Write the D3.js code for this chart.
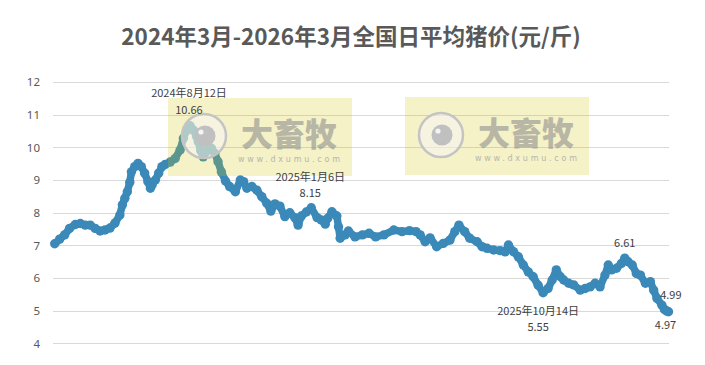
<!DOCTYPE html>
<html><head><meta charset="utf-8">
<script src="https://cdn.jsdelivr.net/npm/d3@7"></script>
<style>body{margin:0;background:#fff}svg{display:block}</style>
</head><body><svg id="c" width="705" height="365"></svg>
<script>
const title = "2024年3月-2026年3月全国日平均猪价(元/斤)";
const dates = ["2024-03-01","2024-03-07","2024-03-13","2024-03-19","2024-03-26","2024-04-01","2024-04-07","2024-04-13","2024-04-19","2024-04-25","2024-05-01","2024-05-07","2024-05-13","2024-05-19","2024-05-22","2024-05-25","2024-05-28","2024-05-31","2024-06-02","2024-06-06","2024-06-10","2024-06-14","2024-06-18","2024-06-22","2024-06-25","2024-06-27","2024-07-01","2024-07-05","2024-07-09","2024-07-13","2024-07-19","2024-07-25","2024-07-31","2024-08-04","2024-08-08","2024-08-12","2024-08-16","2024-08-20","2024-08-22","2024-08-25","2024-08-28","2024-08-31","2024-09-03","2024-09-07","2024-09-11","2024-09-15","2024-09-19","2024-09-24","2024-09-29","2024-10-06","2024-10-12","2024-10-16","2024-10-20","2024-10-26","2024-11-01","2024-11-07","2024-11-13","2024-11-18","2024-11-23","2024-11-29","2024-12-05","2024-12-11","2024-12-17","2024-12-21","2024-12-25","2024-12-31","2025-01-06","2025-01-13","2025-01-18","2025-01-23","2025-01-26","2025-01-31","2025-02-06","2025-02-08","2025-02-10","2025-02-16","2025-02-20","2025-02-28","2025-03-09","2025-03-17","2025-03-25","2025-04-04","2025-04-16","2025-04-26","2025-05-05","2025-05-13","2025-05-18","2025-05-24","2025-05-30","2025-06-07","2025-06-15","2025-06-23","2025-06-29","2025-07-04","2025-07-11","2025-07-17","2025-07-26","2025-08-01","2025-08-07","2025-08-15","2025-08-23","2025-08-29","2025-09-02","2025-09-08","2025-09-14","2025-09-20","2025-09-26","2025-10-02","2025-10-08","2025-10-14","2025-10-20","2025-10-25","2025-10-30","2025-11-04","2025-11-08","2025-11-14","2025-11-20","2025-11-28","2025-12-04","2025-12-10","2025-12-16","2025-12-22","2025-12-28","2026-01-01","2026-01-05","2026-01-11","2026-01-17","2026-01-21","2026-01-25","2026-01-30","2026-02-04","2026-02-09","2026-02-15","2026-02-21","2026-02-25","2026-03-01","2026-03-07","2026-03-10","2026-03-13","2026-03-15"];
const prices = [7.05,7.19,7.32,7.52,7.64,7.67,7.62,7.62,7.52,7.44,7.47,7.53,7.68,7.93,8.24,8.44,8.64,8.93,9.25,9.41,9.51,9.41,9.21,8.95,8.75,8.85,9.00,9.21,9.41,9.48,9.55,9.66,9.92,10.28,10.53,10.66,10.53,10.33,10.17,9.90,9.71,9.85,9.97,9.97,9.82,9.56,9.25,8.97,8.80,8.64,9.00,8.95,8.75,8.80,8.69,8.49,8.29,8.05,8.27,8.20,7.88,8.00,7.85,7.62,7.90,8.02,8.15,7.85,7.78,7.65,7.83,8.03,7.90,7.57,7.22,7.32,7.44,7.26,7.32,7.37,7.26,7.32,7.47,7.42,7.45,7.42,7.32,7.11,7.23,6.96,7.06,7.16,7.42,7.62,7.42,7.22,7.11,6.96,6.91,6.86,6.84,6.80,7.01,6.81,6.65,6.40,6.19,6.04,5.78,5.55,5.68,5.94,6.25,6.04,5.94,5.84,5.79,5.63,5.68,5.73,5.84,5.73,6.09,6.40,6.25,6.30,6.45,6.61,6.50,6.40,6.14,6.09,5.84,5.89,5.63,5.38,5.17,5.04,4.99,4.97];
const yTicks = [4,5,6,7,8,9,10,11,12];
const labelledDates = ["2024-08-12","2025-01-06","2025-10-14","2026-01-21","2026-03-13","2026-03-15"];
const watermarkName = "大畜牧";
const watermarkUrl = "www.dxumu.com";

const parse = d3.timeParse("%Y-%m-%d");
const data = dates.map((d,i)=>({date:parse(d), value:prices[i], key:d}));

const svg = d3.select("#c");
const x = d3.scaleTime().domain([parse(dates[0]), parse(dates[dates.length-1])]).range([54.7, 668.5]);
const y = d3.scaleLinear().domain([4,12]).range([343.4, 82]);

svg.append("text").attr("x",351).attr("y",45).attr("text-anchor","middle")
  .attr("font-family","'Noto Sans CJK SC', sans-serif").attr("font-weight","bold")
  .attr("font-size",22.5).attr("fill","#595959").text(title);

// grid
const g = svg.append("g");
g.selectAll("line.grid").data(yTicks).join("line")
  .attr("x1",53).attr("x2",669).attr("y1",d=>Math.round(y(d))+0.5).attr("y2",d=>Math.round(y(d))+0.5)
  .attr("stroke","#d9d9d9").attr("stroke-width",1);
const yAxis = d3.axisLeft(y).tickValues(yTicks).tickSize(0).tickPadding(0);
const ya = svg.append("g").attr("transform","translate(40,0)").call(yAxis);
ya.select(".domain").remove();
ya.selectAll("text").attr("font-family","'Noto Sans', sans-serif").attr("font-size",11.5).attr("fill","#595959");

// line
const line = d3.line().x(d=>x(d.date)).y(d=>y(d.value)).curve(d3.curveLinear);
svg.append("path").datum(data).attr("d",line).attr("fill","none")
  .attr("stroke","#3a89b8").attr("stroke-width",7.5).attr("stroke-linejoin","round").attr("stroke-linecap","round");
svg.selectAll("circle.pt").data(data).join("circle").attr("class","pt")
  .attr("cx",d=>x(d.date)).attr("cy",d=>y(d.value)).attr("r",4.7).attr("fill","#3a89b8");

// watermarks
function watermark(bx, by){
  const w = svg.append("g").attr("transform",`translate(${bx},${by})`);
  w.append("rect").attr("width",184).attr("height",78).attr("fill","rgb(209,195,0)").attr("opacity",0.22);
  w.append("circle").attr("cx",36).attr("cy",38).attr("r",22).attr("fill","#f6f6f6").attr("fill-opacity",0.55)
    .attr("stroke","#c4c4c4").attr("stroke-width",2.5);
  w.append("circle").attr("cx",37).attr("cy",38).attr("r",10.5).attr("fill","#c0c0c0");
  w.append("circle").attr("cx",33).attr("cy",34).attr("r",2.6).attr("fill","#f4f4f4");
  w.append("text").attr("x",121).attr("y",48).attr("text-anchor","middle")
    .attr("font-family","'Noto Sans CJK SC', sans-serif").attr("font-weight",900).attr("font-size",32)
    .attr("fill","#909090").attr("opacity",0.6).text(watermarkName);
  w.append("text").attr("x",70).attr("y",64).attr("textLength",102).attr("lengthAdjust","spacing")
    .attr("font-family","'DejaVu Sans', sans-serif").attr("font-size",8)
    .attr("fill","#a8a8a8").attr("opacity",0.8).text(watermarkUrl);
}
watermark(168,98);
watermark(405,97);

// annotations
const fmtDate = d=>`${d.getFullYear()}年${d.getMonth()+1}月${d.getDate()}日`;
const offs = {
  "2024-08-12":{dx:-1, dyV:-12, dyD:-29, date:true},
  "2025-01-06":{dx:-1, dyV:-11, dyD:-27, date:true},
  "2025-10-14":{dx:-5, dyV:38, dyD:22, date:true},
  "2026-01-21":{dx:0, dyV:-11, date:false},
  "2026-03-13":{dx:4, dyV:-12, date:false},
  "2026-03-15":{dx:-3, dyV:17, date:false}
};
const ann = svg.append("g").attr("font-family","'Noto Sans CJK SC', sans-serif").attr("font-size",11).attr("fill","#404040").attr("text-anchor","middle");
labelledDates.forEach(k=>{
  const d = data.find(p=>p.key===k); const o = offs[k];
  const px = x(d.date)+o.dx, py = y(d.value);
  ann.append("text").attr("x",px).attr("y",py+o.dyV).text(d.value.toFixed(2));
  if(o.date) ann.append("text").attr("x",px).attr("y",py+o.dyD).text(fmtDate(d.date));
});
</script></body></html>
